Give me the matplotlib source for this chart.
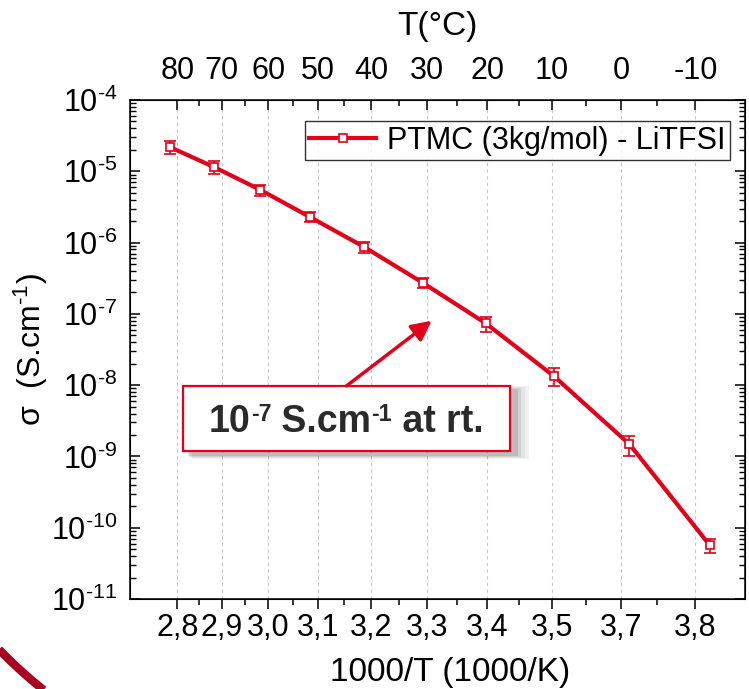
import numpy as np
import matplotlib
matplotlib.use("Agg")
import matplotlib.pyplot as plt
from matplotlib.patches import Rectangle
from matplotlib.ticker import FixedLocator, LogLocator, NullFormatter, FuncFormatter

# data
temps_c = [80, 70, 60, 50, 40, 30, 20, 10, 0, -10]
minor_temps_c = [75, 65, 55, 45, 35, 25, 15, 5, -5]
bottom_labels = ["2,8", "2,9", "3,0", "3,1", "3,2", "3,3", "3,4", "3,5", "3,7", "3,8"]
top_labels = ["80", "70", "60", "50", "40", "30", "20", "10", "0", "-10"]

inv_t = [2.8185, 2.8997, 2.987, 3.079, 3.180, 3.290, 3.408, 3.535, 3.677, 3.827]
sigma = [2.17e-5, 1.15e-5, 5.47e-6, 2.29e-6, 8.75e-7, 2.74e-7, 7.38e-8, 1.35e-8, 1.48e-9, 5.68e-11]
sigma_err = [4.5e-6, 2.4e-6, 1.0e-6, 3.7e-7, 1.6e-7, 4.7e-8, 1.8e-8, 3.8e-9, 4.5e-10, 1.2e-11]

red = "#e2001a"
dark = "#2a2a2a"

plt.rcParams["font.family"] = ["Liberation Sans", "DejaVu Sans"]
plt.rcParams["mathtext.fontset"] = "custom"
plt.rcParams["mathtext.rm"] = "Liberation Sans"
plt.rcParams["mathtext.bf"] = "Liberation Sans:bold"
plt.rcParams["mathtext.it"] = "Liberation Sans:italic"

major_x = [1000.0 / (t + 273.15) for t in temps_c]
minor_x = [1000.0 / (t + 273.15) for t in minor_temps_c]


def pow_label(v, pos):
    e = int(round(np.log10(v)))
    sign = "-" if e < 0 else ""
    return r"$10^{\text{%s%d}}$" % (sign, abs(e))


fig = plt.figure(figsize=(7.49, 6.89), dpi=100)
ax = fig.add_axes([130 / 749, 1 - 599 / 689, 615 / 749, 499 / 689])

ax.errorbar(inv_t, sigma, yerr=sigma_err, fmt="none", ecolor=red,
            elinewidth=1.2, capsize=4, capthick=1.2, zorder=3)
ax.plot(inv_t, sigma, "-s", color=red, lw=3, ms=6, mfc="white",
        mec=red, mew=1.2, label="PTMC (3kg/mol) - LiTFSI", zorder=4)

ax.set_yscale("log")
ax.set_ylim(1e-11, 1e-4)
ax.set_xlim(2.743, 3.893)

ax.xaxis.set_major_locator(FixedLocator(major_x))
ax.xaxis.set_minor_locator(FixedLocator(minor_x))
ax.set_xticklabels(bottom_labels)
ax.yaxis.set_major_locator(LogLocator(base=10, numticks=20))
ax.yaxis.set_major_formatter(FuncFormatter(pow_label))
ax.yaxis.set_minor_locator(LogLocator(base=10, subs=np.arange(2, 10), numticks=100))
ax.yaxis.set_minor_formatter(NullFormatter())

ax.tick_params(axis="x", which="major", direction="out", length=7, width=1.1,
               labelsize=22, pad=3, top=False)
ax.tick_params(axis="x", which="minor", direction="out", length=4, width=1.1, top=False)
ax.tick_params(axis="y", which="major", direction="in", length=7, width=1.1,
               labelsize=22, pad=9, left=True, right=True)
ax.tick_params(axis="y", which="minor", direction="in", length=4, width=1.0,
               left=True, right=True)

ax.grid(axis="x", which="major", ls=(0, (3, 3)), color="#c8c8c8", lw=0.8)

for s in ax.spines.values():
    s.set_linewidth(1.1)

ax.set_xlabel("1000/T (1000/K)", fontsize=24, labelpad=10)
ax.xaxis.label.set_x(0.52)
ax.set_ylabel("σ  (S.cm$^{\\text{-1}}$)", fontsize=23, labelpad=1)

# top temperature axis
ax2 = ax.twiny()
ax2.set_xlim(ax.get_xlim())
ax2.xaxis.set_major_locator(FixedLocator(major_x))
ax2.xaxis.set_minor_locator(FixedLocator(minor_x))
ax2.set_xticklabels(top_labels)
ax2.tick_params(axis="x", which="major", direction="in", length=7, width=1.1,
                labelsize=22, pad=10)
ax2.tick_params(axis="x", which="minor", direction="in", length=4, width=1.1)
ax2.set_xlabel("T(°C)", fontsize=24, labelpad=15)

leg = ax.legend(loc="upper right", bbox_to_anchor=(0.976, 0.958), borderaxespad=0,
                fontsize=22, frameon=True, fancybox=False, handlelength=2.2,
                handletextpad=0.35, borderpad=0.15)
leg.get_frame().set_edgecolor("black")
leg.get_frame().set_linewidth(1.0)

# annotation box with soft shadow
bx0, by0, bw, bh = 0.0862, 0.2966, 0.532, 0.1303
for k, a in enumerate([0.05, 0.06, 0.08, 0.1]):
    off = 0.004 * (4 - k)
    ax.add_patch(Rectangle((bx0 + 0.006 + off * 0.5, by0 - 0.009 - off * 0.5),
                           bw + off, bh + off, transform=ax.transAxes,
                           facecolor="black", edgecolor="none", alpha=a, zorder=5))
ax.add_patch(Rectangle((bx0, by0), bw, bh, transform=ax.transAxes,
                       facecolor="white", edgecolor=red, lw=1.6, zorder=6))

fs = 27
kw = dict(fontsize=fs, fontweight="bold", color=dark, zorder=7)
skw = dict(fontsize=fs * 0.62, fontweight="bold", color=dark, zorder=7)
t0 = ax.text(0.1285, 0.3353, "10", transform=ax.transAxes, ha="left", va="baseline", **kw)
s1 = ax.annotate("-7", xy=(1, 0.52), xycoords=t0, ha="left", va="baseline", **skw)
t1 = ax.annotate(" S.cm", xy=(1, 0), xycoords=(s1, t0), ha="left", va="bottom", **kw)
s2 = ax.annotate("-1", xy=(1, 0.52), xycoords=(t1, t0), ha="left", va="baseline", **skw)
t2 = ax.annotate(" at rt.", xy=(1, 0), xycoords=(s2, t0), ha="left", va="bottom", **kw)

ax.annotate("", xy=(0.4906, 0.5577), xytext=(0.352, 0.427),
            xycoords="axes fraction", textcoords="axes fraction",
            arrowprops=dict(arrowstyle="-|>", color=red, lw=2.5, mutation_scale=30,
                            shrinkA=0, shrinkB=0), zorder=7)

# decorative arc in the lower left corner (slide template)
deco = fig.add_axes([0, 0, 1, 1], zorder=-1)
deco.set_xlim(0, 749)
deco.set_ylim(689, 0)
deco.axis("off")
ang = np.radians(np.linspace(118, 142, 60))
deco.plot(330 + 460 * np.cos(ang), 330 + 460 * np.sin(ang), color="#a8001e", lw=6,
          solid_capstyle="butt")

fig.savefig("out.png", dpi=100)
